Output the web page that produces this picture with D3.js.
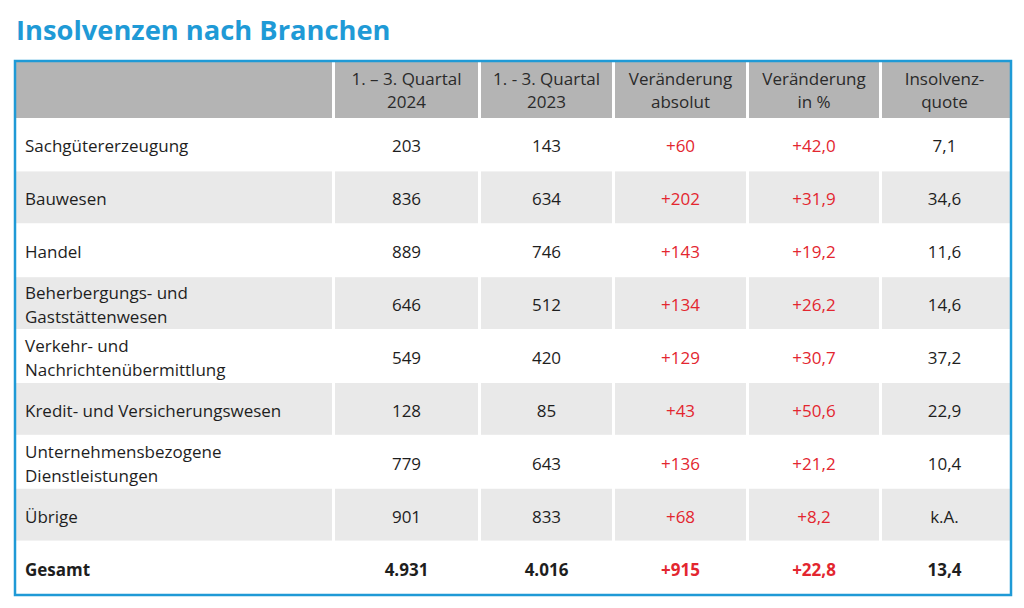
<!DOCTYPE html>
<html><head><meta charset="utf-8">
<script src="https://cdn.jsdelivr.net/npm/d3@7"></script>
<style>
body{margin:0;background:#fff;}
svg{display:block;font-family:"Open Sans",sans-serif;}
</style></head>
<body><svg id="c" width="1024" height="608"></svg>
<script>
const title = "Insolvenzen nach Branchen";
const headers = [[""], ["1. – 3. Quartal", "2024"], ["1. - 3. Quartal", "2023"], ["Veränderung", "absolut"], ["Veränderung", "in %"], ["Insolvenz-", "quote"]];
const categories = [
  ["Sachgütererzeugung"],
  ["Bauwesen"],
  ["Handel"],
  ["Beherbergungs- und", "Gaststättenwesen"],
  ["Verkehr- und", "Nachrichtenübermittlung"],
  ["Kredit- und Versicherungswesen"],
  ["Unternehmensbezogene", "Dienstleistungen"],
  ["Übrige"],
  ["Gesamt"]
];
const q2024 = [203, 836, 889, 646, 549, 128, 779, 901, 4931];
const q2023 = [143, 634, 746, 512, 420, 85, 643, 833, 4016];
const changeAbs = [60, 202, 143, 134, 129, 43, 136, 68, 915];
const changePct = [42.0, 31.9, 19.2, 26.2, 30.7, 50.6, 21.2, 8.2, 22.8];
const quote = [7.1, 34.6, 11.6, 14.6, 37.2, 22.9, 10.4, null, 13.4];

(function(){
const de = d3.formatLocale({decimal: ",", thousands: ".", grouping: [3], currency: ["", "€"]});
const fInt = de.format(",d"), fAbs = de.format("+,d"), fPct = de.format("+.1f"), fQ = de.format(".1f");

const svg = d3.select("#c");
const BLUE = "#1f9ad6", RED = "#e3262f", TXT = "#1e1e1e";

svg.append("text").attr("x", 16).attr("y", 40).attr("fill", BLUE)
  .attr("font-size", 27.3).attr("font-weight", 700).text(title);

const L = 16, R = 1010, T = 62, headH = 56, B = 594;
const colEdges = [L, 335, 481, 615, 749, 882, R];
const nCols = headers.length;
const colIdx = d3.range(nCols);
const x0 = d3.scaleOrdinal().domain(colIdx).range(colEdges.slice(0, nCols));
const x1 = d3.scaleOrdinal().domain(colIdx).range(colEdges.slice(1));
const gap = 3;
const dy = 8;

const y = d3.scaleBand().domain(d3.range(categories.length)).range([T + headH, B]).paddingInner(0.02).paddingOuter(0.01);

// header
const hg = svg.append("g");
hg.selectAll("rect").data(colIdx).join("rect")
  .attr("x", i => x0(i)).attr("y", T)
  .attr("width", i => x1(i) - x0(i) - (i < nCols - 1 ? gap : 0))
  .attr("height", headH).attr("fill", "#b4b4b4");
hg.selectAll("text").data(colIdx).join("text")
  .attr("text-anchor", "middle").attr("fill", "#2a2a2a").attr("font-size", 17)
  .each(function(i) {
    const lines = headers[i];
    d3.select(this).selectAll("tspan").data(lines).join("tspan")
      .attr("x", (x0(i) + x1(i) - gap) / 2)
      .attr("y", (d, k) => T + headH / 2 + (k - (lines.length - 1) / 2) * 23 + 6)
      .text(d => d);
  });

// rows
const rows = categories.map((c, r) => ({
  r, label: c, bold: r === categories.length - 1,
  cells: [fInt(q2024[r]), fInt(q2023[r]), fAbs(changeAbs[r]), fPct(changePct[r]), quote[r] == null ? "k.A." : fQ(quote[r])]
}));
const rg = svg.append("g").selectAll("g").data(rows).join("g");
rg.selectAll("rect").data(d => colIdx.map(i => ({i, r: d.r}))).join("rect")
  .attr("x", d => x0(d.i)).attr("y", d => y(d.r))
  .attr("width", d => x1(d.i) - x0(d.i) - (d.i < nCols - 1 ? gap : 0))
  .attr("height", y.bandwidth())
  .attr("fill", d => d.r % 2 === 1 ? "#e9e9e9" : "#ffffff");

rg.append("text").attr("font-size", 17).attr("fill", TXT)
  .attr("font-weight", d => d.bold ? 700 : 400)
  .each(function(d) {
    const cy = y(d.r) + y.bandwidth() / 2;
    d3.select(this).selectAll("tspan").data(d.label).join("tspan")
      .attr("x", 25).attr("y", (t, k) => cy + (k - (d.label.length - 1) / 2) * 24 + dy)
      .text(t => t);
  });

rg.selectAll("text.v").data(d => d.cells.map((v, k) => ({v, i: k + 1, r: d.r, bold: d.bold}))).join("text")
  .attr("class", "v")
  .attr("x", d => (x0(d.i) + x1(d.i) - gap) / 2)
  .attr("y", d => y(d.r) + y.bandwidth() / 2 + dy)
  .attr("text-anchor", "middle").attr("font-size", 17)
  .attr("font-weight", d => d.bold ? 700 : 400)
  .attr("fill", d => (d.i === 3 || d.i === 4) ? RED : TXT)
  .text(d => d.v);

// border
svg.append("rect").attr("x", L - 1).attr("y", T - 1).attr("width", R - L + 2).attr("height", B - T + 2)
  .attr("fill", "none").attr("stroke", BLUE).attr("stroke-width", 2.5);
})();
</script></body></html>
